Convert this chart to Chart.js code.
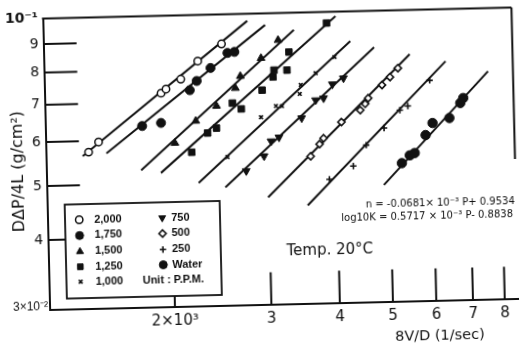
<!DOCTYPE html>
<html><head><meta charset="utf-8">
<script src="https://cdn.jsdelivr.net/npm/chart.js@4/dist/chart.umd.min.js"></script>
<style>
html,body{margin:0;padding:0;background:#fff;overflow:hidden;width:521px;height:348px;}
#wrap{position:absolute;left:0;top:0;width:521px;height:348px;transform:rotate(-1.35deg);transform-origin:260px 174px;}
canvas{display:block;}
</style></head><body>
<div id="wrap"><canvas id="c" width="521" height="348"></canvas></div>
<script>
// ---- tick labels / categories ----
const xTickValues = [2000, 3000, 4000, 5000, 6000, 7000, 8000];
const xTickLabels = ['2×10³', '3', '4', '5', '6', '7', '8'];
const yTickValues = [0.03, 0.04, 0.05, 0.06, 0.07, 0.08, 0.09, 0.1];
const yTickLabels = ['3×10⁻²', '4', '5', '6', '7', '8', '9', '10⁻¹'];
const seriesNames = ['2,000', '1,750', '1,500', '1,250', '1,000', '750', '500', '250', 'Water'];
const xTitle = '8V/D (1/sec)';
const yTitle = 'DΔP/4L (g/cm²)';
const tempText = 'Temp. 20°C';
const eq1 = 'n = -0.0681× 10⁻³ P+ 0.9534';
const eq2 = 'log10K = 0.5717 × 10⁻³ P- 0.8838';
const unitText = 'Unit : P.P.M.';

// ---- measured points (8V/D in 1/sec, DΔP/4L in g/cm²) ----
const x2000 = [1413, 1475, 1927, 1968, 2096, 2255, 2496];
const y2000 = [0.0573, 0.0597, 0.0726, 0.0738, 0.0768, 0.0826, 0.0885];
const x1750 = [1774, 1921, 2175, 2241, 2378, 2557, 2633];
const y1750 = [0.0635, 0.0642, 0.0733, 0.0761, 0.0802, 0.0852, 0.0855];
const x1500 = [2032, 2223, 2429, 2634, 2693, 2943, 3167];
const y1500 = [0.0590, 0.0645, 0.0685, 0.0736, 0.0773, 0.0831, 0.0894];
const x1250 = [2179, 2334, 2424, 2598, 2695, 2947, 3089, 3104, 3278, 3311, 3889];
const y1250 = [0.0567, 0.0613, 0.0625, 0.0692, 0.0675, 0.0728, 0.0768, 0.0790, 0.0789, 0.0850, 0.0955];
const x1000 = [2531, 2926, 3119, 3198, 3451, 3468, 3696, 4007];
const y1000 = [0.0554, 0.0651, 0.0681, 0.0680, 0.0714, 0.0741, 0.0777, 0.0829];
const x750 = [2735, 2952, 3045, 3149, 3470, 3687, 3812, 3962, 4152];
const y750 = [0.0522, 0.0554, 0.0589, 0.0598, 0.0646, 0.0695, 0.0700, 0.0741, 0.0759];
const x500 = [3590, 3732, 3797, 4099, 4442, 4538, 4598, 4879, 5049, 5224];
const y500 = [0.0551, 0.0579, 0.0593, 0.0633, 0.0664, 0.0681, 0.0697, 0.0735, 0.0759, 0.0787];
const x250 = [3877, 4291, 4539, 4900, 5246, 5427, 5962];
const y250 = [0.0500, 0.0527, 0.0574, 0.0615, 0.0661, 0.0672, 0.0746];
const xWater = [5264, 5445, 5561, 5831, 6011, 6455, 6767, 6855];
const yWater = [0.0531, 0.0548, 0.0553, 0.0595, 0.0625, 0.0637, 0.0677, 0.0691];

// ---- fitted power-law lines (end points) ----
const fit2000X = [1378, 2787], fit2000Y = [0.0564, 0.0971];
const fit1750X = [1523, 3003], fit1750Y = [0.0569, 0.0953];
const fit1500X = [1759, 3387], fit1500Y = [0.0529, 0.0931];
const fit1250X = [1911, 4040], fit1250Y = [0.0522, 0.0982];
const fit1000X = [2237, 4289], fit1000Y = [0.0499, 0.0884];
const fit750X = [2502, 4737], fit750Y = [0.0489, 0.0860];
const fit500X = [2991, 5498], fit500Y = [0.0467, 0.0833];
const fit250X = [3530, 6387], fit250Y = [0.0450, 0.0806];
const fitWaterX = [4871, 7627], fitWaterY = [0.0486, 0.0770];

const INK = '#111';
const pts = (xs, ys) => xs.map((v, i) => ({x: v, y: ys[i]}));

const pointSets = [
  {xs: x2000, ys: y2000, style: 'circle', r: 3.7, fill: '#fff', bw: 1.5, rot: 0},
  {xs: x1750, ys: y1750, style: 'circle', r: 4.5, fill: INK, bw: 1, rot: 0},
  {xs: x1500, ys: y1500, style: 'triangle', r: 4.5, fill: INK, bw: 1, rot: 0},
  {xs: x1250, ys: y1250, style: 'rect', r: 4.6, fill: INK, bw: 1, rot: 0},
  {xs: x1000, ys: y1000, style: 'crossRot', r: 2.6, fill: INK, bw: 1.6, rot: 0},
  {xs: x750, ys: y750, style: 'triangle', r: 4.5, fill: INK, bw: 1, rot: 180},
  {xs: x500, ys: y500, style: 'rectRot', r: 3.6, fill: '#fff', bw: 1.6, rot: 0},
  {xs: x250, ys: y250, style: 'cross', r: 3.2, fill: INK, bw: 1.6, rot: 0},
  {xs: xWater, ys: yWater, style: 'circle', r: 4.7, fill: INK, bw: 1, rot: 0}
];
const fitSets = [[fit2000X, fit2000Y], [fit1750X, fit1750Y], [fit1500X, fit1500Y], [fit1250X, fit1250Y],
  [fit1000X, fit1000Y], [fit750X, fit750Y], [fit500X, fit500Y], [fit250X, fit250Y], [fitWaterX, fitWaterY]];

const datasets = [];
pointSets.forEach((s, i) => datasets.push({
  label: seriesNames[i], data: pts(s.xs, s.ys), showLine: false, order: 0,
  pointStyle: s.style, pointRadius: s.r, pointRotation: s.rot,
  pointBackgroundColor: s.fill, pointBorderColor: INK, pointBorderWidth: s.bw
}));
fitSets.forEach((f, i) => datasets.push({
  label: seriesNames[i] + ' fit', data: pts(f[0], f[1]), showLine: true, order: 1,
  borderColor: INK, borderWidth: 2, pointRadius: 0, fill: false
}));

function marker(ctx, s, x, y) {
  ctx.save();
  ctx.fillStyle = s.fill; ctx.strokeStyle = INK; ctx.lineWidth = s.bw;
  if (Chart.helpers && Chart.helpers.drawPoint) {
    Chart.helpers.drawPoint(ctx, {pointStyle: s.style, radius: s.r, rotation: s.rot, borderWidth: s.bw}, x, y);
  } else {
    ctx.beginPath(); ctx.arc(x, y, s.r, 0, Math.PI * 2); ctx.fill(); ctx.stroke();
  }
  ctx.restore();
}

const deco = {
  id: 'deco',
  afterDraw(chart) {
    const {ctx, chartArea: a, scales: {x, y}} = chart;
    ctx.save();
    ctx.strokeStyle = INK; ctx.fillStyle = INK; ctx.lineWidth = 2;
    const seg = (x1, y1, x2, y2) => { ctx.beginPath(); ctx.moveTo(x1, y1); ctx.lineTo(x2, y2); ctx.stroke(); };
    seg(a.left - 1, a.top, a.right, a.top);
    seg(a.right, a.top, a.right, 165);
    yTickValues.forEach(v => { if (v <= 0.03 || v >= 0.1) return; const p = y.getPixelForValue(v); seg(a.left, p, a.left + 33, p); });
    xTickValues.forEach(v => { const p = x.getPixelForValue(v); seg(p, a.bottom, p, a.bottom - 32); });

    ctx.textBaseline = 'middle';
    ctx.font = '12px "Liberation Sans"'; ctx.textAlign = 'right';
    ctx.fillText(yTickLabels[0], 45, 301.6);

    ctx.save(); ctx.translate(19, 165.8); ctx.rotate(-Math.PI / 2);
    ctx.font = '16px "DejaVu Sans"'; ctx.textAlign = 'center'; ctx.fillText(yTitle, 0, 0); ctx.restore();

    ctx.textAlign = 'center';
    ctx.font = '14.5px "DejaVu Sans"'; ctx.fillText(xTitle, 436, 340.5);
    ctx.font = '15px "DejaVu Sans"'; ctx.fillText(tempText, 328, 251.7);
    ctx.textAlign = 'right';
    ctx.font = '10px "DejaVu Sans"';
    ctx.fillText(eq1, 514, 207.4);
    ctx.fillText(eq2, 512, 220);

    // legend box
    const bx = 64, by = 200, bw = 155, bh = 94;
    ctx.fillStyle = '#fff'; ctx.fillRect(bx, by, bw, bh);
    ctx.lineWidth = 1.8; ctx.strokeStyle = INK; ctx.strokeRect(bx, by, bw, bh);
    const rows = [15.5, 31.3, 47.3, 62.5, 77.5];
    ctx.font = 'bold 11px "Liberation Sans"'; ctx.textAlign = 'left'; ctx.fillStyle = INK;
    pointSets.forEach((s, i) => {
      const left = i < 5;
      const ry = by + rows[left ? i : i - 5];
      const mx = bx + (left ? 14.2 : 97.2);
      const tx = bx + (left ? 29.2 : 106.2);
      const ms = Object.assign({}, s, {r: Math.min(s.r, 4)});
      marker(ctx, ms, mx, ry);
      ctx.fillStyle = INK;
      ctx.fillText(seriesNames[i], tx, ry);
    });
    ctx.fillText(unitText, bx + 76.2, by + rows[4]);
    ctx.restore();
  }
};

new Chart(document.getElementById('c'), {
  type: 'scatter',
  data: {datasets},
  options: {
    responsive: false, animation: false, events: [],
    layout: {padding: {left: 0, top: 13.5, right: 1.5, bottom: 0}},
    plugins: {legend: {display: false}, tooltip: {enabled: false}},
    scales: {
      x: {
        type: 'logarithmic', min: 1182, max: 8470,
        afterBuildTicks: s => { s.ticks = xTickValues.map(v => ({value: v})); },
        afterFit: s => { s.height = 43.5; },
        grid: {display: false, drawTicks: false},
        border: {display: true, color: INK, width: 2},
        ticks: {
          autoSkip: false, maxRotation: 0, padding: 6, color: INK,
          font: {family: 'DejaVu Sans', size: 15},
          callback: v => xTickLabels[xTickValues.indexOf(v)]
        }
      },
      y: {
        type: 'logarithmic', min: 0.03, max: 0.1,
        afterBuildTicks: s => { s.ticks = yTickValues.map(v => ({value: v})); },
        afterFit: s => { s.width = 46.7; },
        grid: {display: false, drawTicks: false},
        border: {display: true, color: INK, width: 2},
        ticks: {
          autoSkip: false, padding: 5, color: INK,
          font: c => ({family: 'DejaVu Sans', size: 14, weight: (c.tick && c.tick.value === 0.1) ? 'bold' : 'normal'}),
          callback: v => { const i = yTickValues.findIndex(t => Math.abs(t - v) < 1e-9); return i <= 0 ? '' : yTickLabels[i]; }
        }
      }
    }
  },
  plugins: [deco]
});
</script></body></html>
